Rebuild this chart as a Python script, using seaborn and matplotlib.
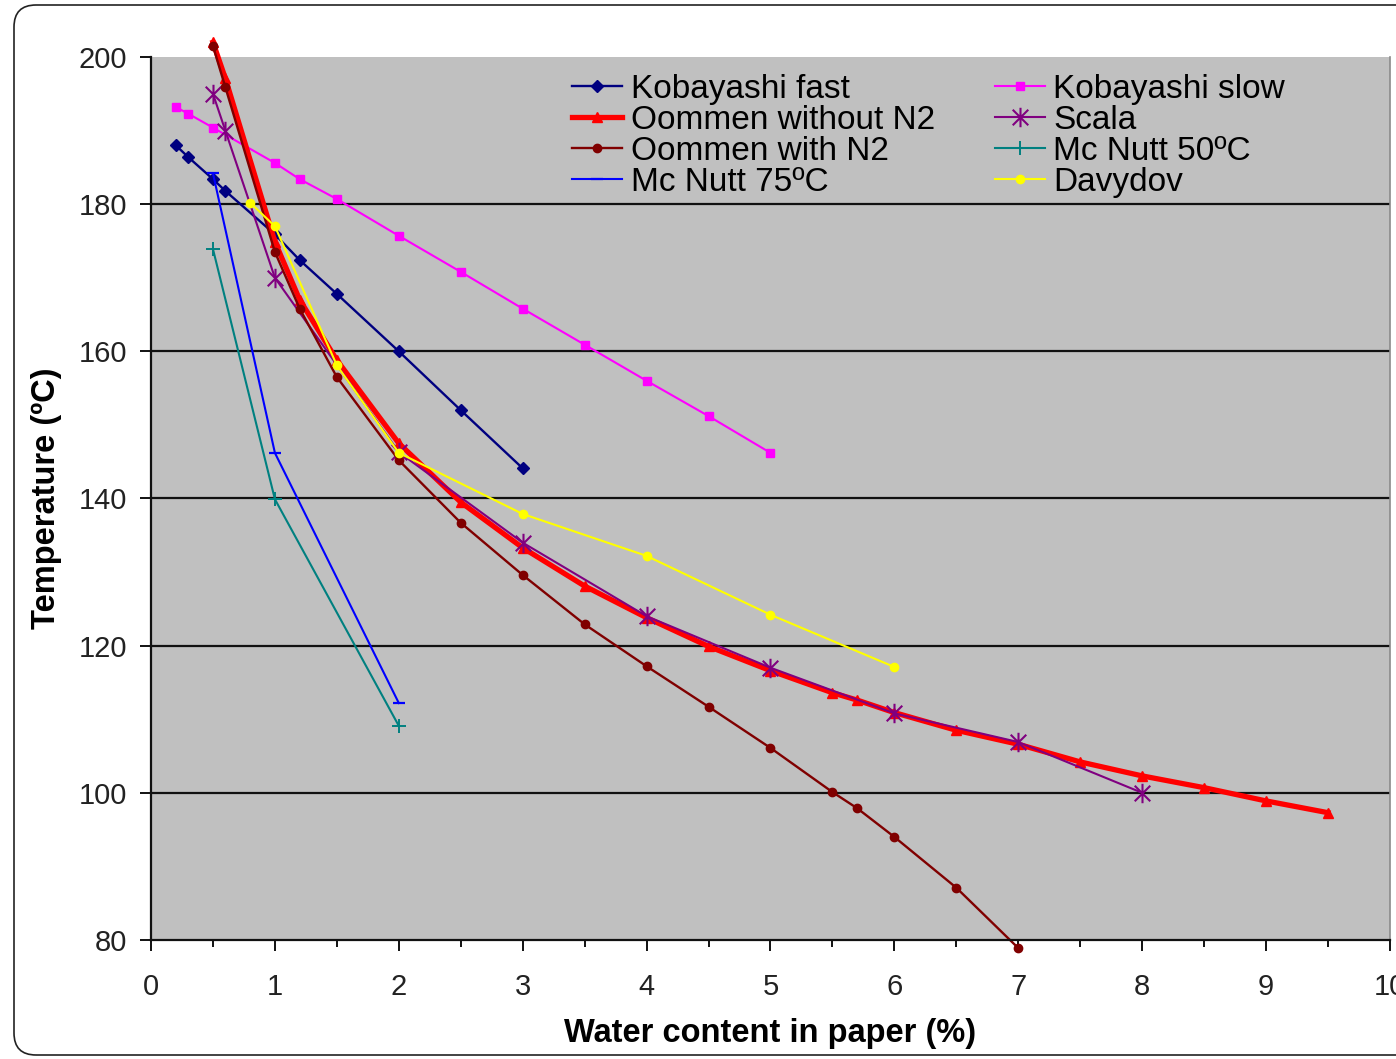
import matplotlib
matplotlib.use("Agg")
import matplotlib.pyplot as plt
import seaborn as sns
from matplotlib.path import Path
from matplotlib.patches import FancyBboxPatch
from matplotlib.ticker import MultipleLocator

# Water content in paper (%) vs. temperature (°C) for each source
kob_fast_x = [0.2, 0.3, 0.5, 0.6, 1.0, 1.2, 1.5, 2.0, 2.5, 3.0]
kob_fast_y = [188.0, 186.4, 183.4, 181.8, 175.9, 172.4, 167.8, 160.0, 152.0, 144.1]

kob_slow_x = [0.2, 0.3, 0.5, 1.0, 1.2, 1.5, 2.0, 2.5, 3.0, 3.5, 4.0, 4.5, 5.0]
kob_slow_y = [193.2, 192.3, 190.4, 185.6, 183.4, 180.7, 175.7, 170.8, 165.8, 160.9, 156.0, 151.2, 146.2]

oom_wo_x = [0.5, 0.6, 1.0, 1.2, 1.5, 2.0, 2.5, 3.0, 3.5, 4.0, 4.5, 5.0, 5.5, 5.7,
            6.0, 6.5, 7.0, 7.5, 8.0, 8.5, 9.0, 9.5]
oom_wo_y = [202.0, 197.1, 174.9, 167.0, 158.8, 147.5, 139.5, 133.3, 128.1, 123.8, 119.9,
            116.6, 113.6, 112.6, 110.9, 108.5, 106.6, 104.2, 102.3, 100.7, 98.9, 97.3]

scala_x = [0.5, 0.6, 1.0, 2.0, 3.0, 4.0, 5.0, 6.0, 7.0, 8.0]
scala_y = [195.0, 190.0, 170.0, 146.3, 134.0, 124.0, 117.0, 110.8, 106.9, 100.0]

oom_w_x = [0.5, 0.6, 1.0, 1.2, 1.5, 2.0, 2.5, 3.0, 3.5, 4.0, 4.5, 5.0, 5.5, 5.7,
           6.0, 6.5, 7.0]
oom_w_y = [201.5, 195.9, 173.5, 165.8, 156.5, 145.2, 136.7, 129.6, 122.9, 117.2, 111.7,
           106.1, 100.1, 97.9, 94.0, 87.1, 78.9]

mcn50_x = [0.5, 1.0, 2.0]
mcn50_y = [173.9, 139.9, 109.1]

mcn75_x = [0.5, 1.0, 2.0]
mcn75_y = [184.2, 146.2, 112.2]

davy_x = [0.8, 1.0, 1.5, 2.0, 3.0, 4.0, 5.0, 6.0]
davy_y = [180.2, 177.0, 158.1, 146.2, 137.9, 132.2, 124.2, 117.1]

labels = ["Kobayashi fast", "Kobayashi slow", "Oommen without N2", "Scala",
          "Oommen with N2", "Mc Nutt 50ºC", "Mc Nutt 75ºC", "Davydov"]

# asterisk marker: an X crossed by a vertical stroke
star = Path([(-1, -1), (1, 1), (-1, 1), (1, -1), (0, -1.25), (0, 1.25)],
            [Path.MOVETO, Path.LINETO, Path.MOVETO, Path.LINETO, Path.MOVETO, Path.LINETO])

series = [
    (kob_fast_x, kob_fast_y, dict(color="#000080", marker="D", markersize=6, lw=1.7)),
    (kob_slow_x, kob_slow_y, dict(color="#FF00FF", marker="s", markersize=6, lw=1.5)),
    (oom_wo_x, oom_wo_y, dict(color="#FF0000", marker="^", markersize=7, lw=3.8)),
    (scala_x, scala_y, dict(color="#800080", marker=star, markersize=14, lw=1.5,
                            markeredgewidth=1.5, markerfacecolor="none")),
    (oom_w_x, oom_w_y, dict(color="#800000", marker="o", markersize=6, lw=1.7)),
    (mcn50_x, mcn50_y, dict(color="#008080", marker="+", markersize=10, lw=1.5,
                            markeredgewidth=1.4)),
    (mcn75_x, mcn75_y, dict(color="#0000FF", marker="_", markersize=8, lw=1.5,
                            markeredgewidth=1.6)),
    (davy_x, davy_y, dict(color="#FFFF00", marker="o", markersize=6, lw=1.5)),
]

plt.rcParams["font.family"] = ["Liberation Sans", "DejaVu Sans"]

fig = plt.figure(figsize=(13.96, 10.59), dpi=100)
fig.patch.set_facecolor("white")
ax = fig.add_axes([151 / 1396, 1 - 940 / 1059, 1239 / 1396, 883 / 1059])
ax.set_facecolor("#C0C0C0")

handles = []
for (xs, ys, st), lab in zip(series, labels):
    st = dict(st)
    color = st.pop("color")
    st.setdefault("markeredgewidth", 1.0)
    sns.lineplot(x=xs, y=ys, ax=ax, color=color, markeredgecolor=color,
                 sort=False, estimator=None, errorbar=None, label=lab,
                 clip_on=False, **st)
    handles.append(ax.get_lines()[-1])

ax.set_xlim(0, 10)
ax.set_ylim(80, 200)
ax.xaxis.set_major_locator(MultipleLocator(1))
ax.xaxis.set_minor_locator(MultipleLocator(0.5))
ax.yaxis.set_major_locator(MultipleLocator(20))
ax.grid(False)
for yv in [100, 120, 140, 160, 180]:
    ax.axhline(yv, color="#111111", lw=1.6, zorder=0.5)

ax.spines["top"].set_visible(False)
ax.spines["right"].set_color("#8a8a8a")
ax.spines["right"].set_linewidth(1.2)
for side in ["left", "bottom"]:
    ax.spines[side].set_linewidth(1.6)
    ax.spines[side].set_color("#111111")

ax.tick_params(axis="both", which="major", direction="out", length=8, width=1.4,
               color="#111111", labelsize=21, labelcolor="#222222")
ax.tick_params(axis="x", which="major", pad=16)
ax.tick_params(axis="y", which="major", pad=9)
ax.tick_params(axis="x", which="minor", direction="out", length=5, width=1.4,
               color="#111111")

ax.set_xlabel("Water content in paper (%)", fontsize=23.5, fontweight="bold",
              labelpad=12)
ax.set_ylabel("Temperature (ºC)", fontsize=23.5, fontweight="bold", labelpad=12)

order = [0, 2, 4, 6, 1, 3, 5, 7]
leg = ax.legend([handles[i] for i in order], [labels[i] for i in order],
                ncol=2, frameon=False, fontsize=24, loc="upper left",
                bbox_to_anchor=(0.340, 0.981), borderaxespad=0, borderpad=0,
                handlelength=1.5, handletextpad=0.25, columnspacing=1.8,
                labelspacing=0.0)

# rounded outline around the whole chart
frame = FancyBboxPatch((0.14, 0.04), 14.3, 10.5,
                       boxstyle="round,pad=0,rounding_size=0.22",
                       transform=fig.dpi_scale_trans, facecolor="none",
                       edgecolor="#222222", lw=1.2)
fig.patches.append(frame)

fig.savefig("out.png", dpi=100)
